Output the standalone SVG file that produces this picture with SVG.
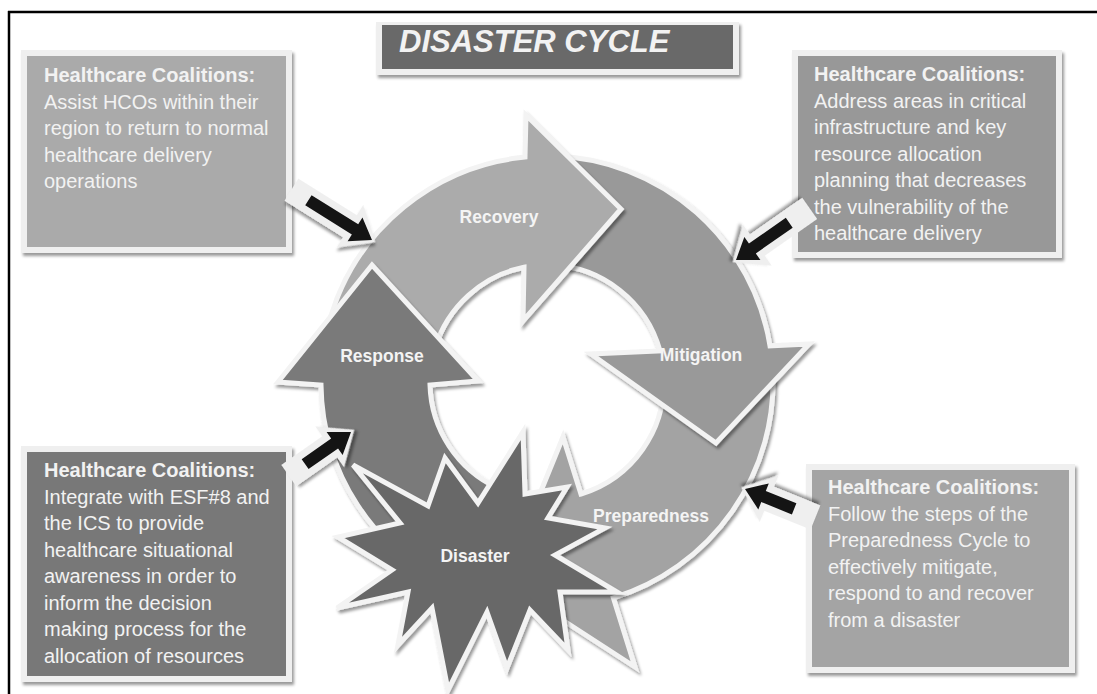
<svg xmlns="http://www.w3.org/2000/svg" width="1097" height="694" viewBox="0 0 1097 694">
  <defs>
    <filter id="sh" x="-10%" y="-10%" width="125%" height="125%">
      <feDropShadow dx="2" dy="3" stdDeviation="1.6" flood-color="#000" flood-opacity="0.4"/>
    </filter>
    <style>
      .frame{fill:#efefef;filter:url(#sh)}
      .box-text{font-family:"Liberation Sans",Arial,sans-serif;font-size:20px;fill:#f2f2f2}
      .box-head{font-weight:bold}
      .seg{stroke:#f3f3f3;stroke-width:5;stroke-linejoin:miter;filter:url(#sh)}
      .lbl{font-family:"Liberation Sans",Arial,sans-serif;font-size:17.5px;font-weight:bold;fill:#f4f4f4;text-anchor:middle}
      .call-light{fill:#efefef;filter:url(#sh)}
      .call-dark{fill:#141414}
    </style>
  </defs>
  <rect width="1097" height="694" fill="#ffffff"/>
  <!-- outer frame lines -->
  <path d="M8,12 H1097 M9,11 V694" stroke="#000" stroke-width="2.5" fill="none"/>

  <!-- title -->
  <g id="title">
    <rect class="frame" x="376" y="22" width="363" height="53"/>
    <rect x="382" y="25" width="351" height="44" fill="#696969"/>
    <text x="399" y="52" font-family="Liberation Sans,Arial,sans-serif" font-size="31" font-weight="bold" font-style="italic" fill="#f2f2f2">DISASTER CYCLE</text>
  </g>

  <!-- text boxes -->
  <g id="box-recovery">
    <rect class="frame" x="21" y="50" width="271" height="203"/>
    <rect x="27" y="56" width="259" height="191" fill="#aaaaaa"/>
    <text class="box-text" x="44" y="82"><tspan class="box-head">Healthcare Coalitions:</tspan><tspan x="44" y="108.5">Assist HCOs within their</tspan><tspan x="44" y="135">region to return to normal</tspan><tspan x="44" y="161.5">healthcare delivery</tspan><tspan x="44" y="188">operations</tspan></text>
  </g>
  <g id="box-mitigation">
    <rect class="frame" x="792" y="50" width="270" height="208"/>
    <rect x="798" y="56" width="258" height="196" fill="#989898"/>
    <text class="box-text" x="814" y="81"><tspan class="box-head">Healthcare Coalitions:</tspan><tspan x="814" y="107.5">Address areas in critical</tspan><tspan x="814" y="134">infrastructure and key</tspan><tspan x="814" y="160.5">resource allocation</tspan><tspan x="814" y="187">planning that decreases</tspan><tspan x="814" y="213.5">the vulnerability of the</tspan><tspan x="814" y="240">healthcare delivery</tspan></text>
  </g>
  <g id="box-response">
    <rect class="frame" x="21" y="446" width="271" height="236"/>
    <rect x="27" y="452" width="259" height="224" fill="#787878"/>
    <text class="box-text" x="44" y="477"><tspan class="box-head">Healthcare Coalitions:</tspan><tspan x="44" y="503.5">Integrate with ESF#8 and</tspan><tspan x="44" y="530">the ICS to provide</tspan><tspan x="44" y="556.5">healthcare situational</tspan><tspan x="44" y="583">awareness in order to</tspan><tspan x="44" y="609.5">inform the decision</tspan><tspan x="44" y="636">making process for the</tspan><tspan x="44" y="662.5">allocation of resources</tspan></text>
  </g>
  <g id="box-preparedness">
    <rect class="frame" x="806" y="464" width="269" height="209"/>
    <rect x="812" y="470" width="257" height="197" fill="#a4a4a4"/>
    <text class="box-text" x="828" y="494"><tspan class="box-head">Healthcare Coalitions:</tspan><tspan x="828" y="520.5">Follow the steps of the</tspan><tspan x="828" y="547">Preparedness Cycle to</tspan><tspan x="828" y="573.5">effectively mitigate,</tspan><tspan x="828" y="600">respond to and recover</tspan><tspan x="828" y="626.5">from a disaster</tspan></text>
  </g>

  <!-- cycle -->
  <g id="preparedness">
    <path class="seg" fill="#a3a3a3" d="M772.7,370.2 A226,226 0 0 1 613.4,597.9 L635,667 L504,582 L563,437 L580.9,494 A117,117 0 0 0 663.8,375.9 Z"/>
  </g>
  <g id="mitigation">
    <path class="seg" fill="#999999" d="M554.9,156.1 A226,226 0 0 1 770,345.8 L809,344 L716,443 L591,354 L660,351 A117,117 0 0 0 551.1,265.1 Z"/>
  </g>
  <g id="recovery">
    <path class="seg" fill="#ababab" d="M330.9,315.9 A226,226 0 0 1 525,157.1 L526,115 L621,209 L523,321 L524,267.3 A117,117 0 0 0 435.1,347.8 Z"/>
  </g>
  <g id="response">
    <path class="seg" fill="#7a7a7a" d="M451.5,586.8 A226,226 0 0 1 321,385 L278,382 L372,265 L478,381 L430,385 A117,117 0 0 0 497.6,488 Z"/>
  </g>
  <g id="disaster">
    <polygon class="seg" fill="#686868" points="523,432 525,494 567,487 548,518 605,528 555,555 617,592 560,592 568,650 530,610 507,668 487,612 448,690 432,608 398,645 408,592 337,608 392,570 338,537 400,523 353,465 428,506 445,458 478,503"/>
  </g>

  <!-- cycle labels -->
  <g id="labels">
    <text class="lbl" x="499" y="223">Recovery</text>
    <text class="lbl" x="701" y="361">Mitigation</text>
    <text class="lbl" x="651" y="522">Preparedness</text>
    <text class="lbl" x="475" y="562">Disaster</text>
    <text class="lbl" x="382" y="362">Response</text>
  </g>

  <!-- callout connectors -->
  <g id="connectors">
    <g transform="translate(372,240) rotate(32)">
      <polygon class="call-light" points="-95,-13 -26,-13 -26,-25 4,0 -26,25 -26,13 -95,13"/>
      <polygon class="call-dark" points="-75,-6 -20,-6 -20,-14 0,0 -20,14 -20,6 -75,6"/>
    </g>
    <g transform="translate(736,260) rotate(145)">
      <polygon class="call-light" points="-90,-13 -26,-13 -26,-25 4,0 -26,25 -26,13 -90,13"/>
      <polygon class="call-dark" points="-65,-6 -20,-6 -20,-14 0,0 -20,14 -20,6 -65,6"/>
    </g>
    <g transform="translate(351,432) rotate(-35)">
      <polygon class="call-light" points="-76,-13 -26,-13 -26,-25 4,0 -26,25 -26,13 -76,13"/>
      <polygon class="call-dark" points="-56,-6 -20,-6 -20,-14 0,0 -20,14 -20,6 -56,6"/>
    </g>
    <g transform="translate(745,489) rotate(202)">
      <polygon class="call-light" points="-76,-13 -26,-13 -26,-25 4,0 -26,25 -26,13 -76,13"/>
      <polygon class="call-dark" points="-53,-6 -20,-6 -20,-14 0,0 -20,14 -20,6 -53,6"/>
    </g>
  </g>
</svg>
